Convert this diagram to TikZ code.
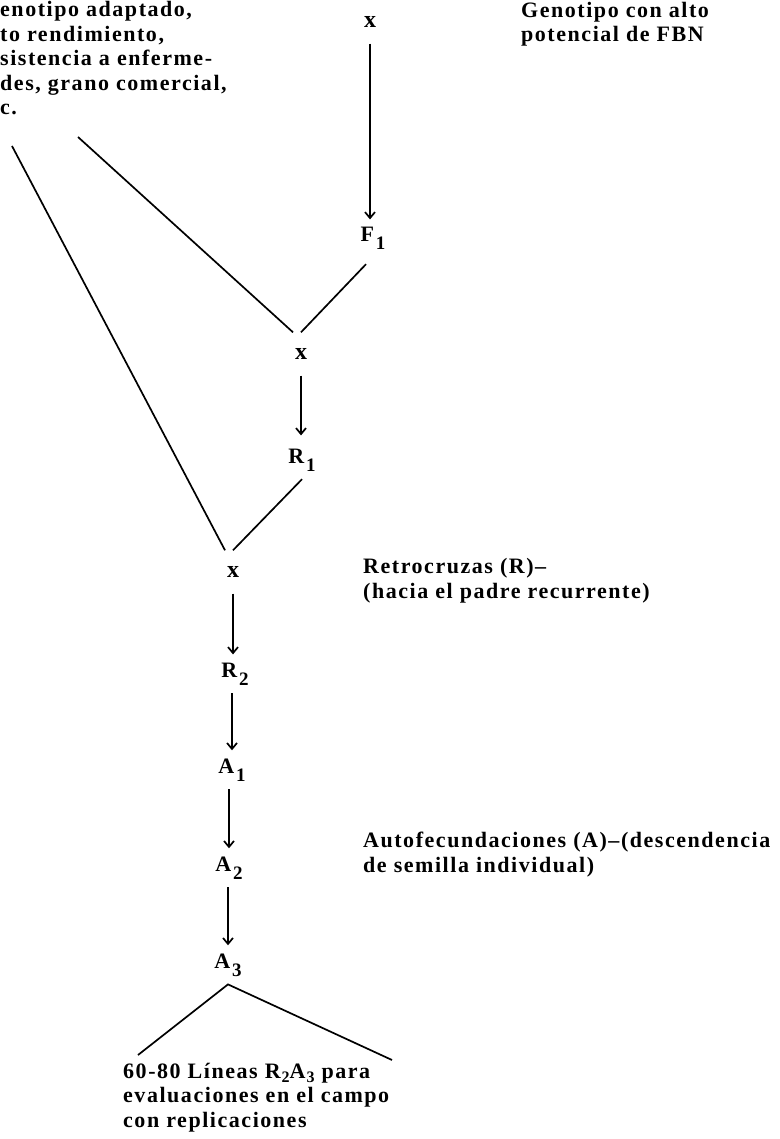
\documentclass[tikz,border=0pt]{standalone}
\usepackage{fontspec}
\setmainfont{Liberation Serif}[LetterSpace=7]
\usetikzlibrary{arrows.meta}
\newcommand\lab[2]{#1\kern2pt\raisebox{-8pt}{\fontsize{19}{19}\selectfont #2}}
\newcommand\inl[2]{#1\kern1pt\raisebox{-4pt}{\fontsize{16}{16}\selectfont #2}}
\tikzset{
 every node/.style={font=\bfseries\fontsize{22}{24.5}\selectfont},
 txt/.style={anchor=base west, align=left, inner sep=0pt},
 cross/.style={inner sep=16pt, font=\bfseries\fontsize{24}{24}\selectfont},
 gen/.style={anchor=base, inner sep=8pt},
 ln/.style={line width=1.7pt},
 arr/.style={line width=1.7pt, -{Straight Barb[length=6pt,width=10pt,line width=1.7pt]}}
}
\begin{document}
\begin{tikzpicture}[x=1pt,y=-1pt]
\useasboundingbox (0,0) rectangle (779,1139);
% multi-line nodes: base anchor = baseline of the last line
\node[txt] (parentA) at (0,115) {enotipo adaptado,\\to rendimiento,\\sistencia a enferme-\\des, grano comercial,\\c.};
\node[txt] (parentB) at (521,42) {Genotipo con alto\\potencial de FBN};
\node[cross] (x1) at (370,22) {x};
\node[gen] (F1) at (373,242) {\lab{F}{1}};
\node[cross] (x2) at (301,354) {x};
\node[gen] (R1) at (302,463) {\lab{R}{1}};
\node[cross] (x3) at (233,572) {x};
\node[gen] (R2) at (235,677) {\lab{R}{2}};
\node[gen] (A1) at (232,773) {\lab{A}{1}};
\node[gen] (A2) at (229,871) {\lab{A}{2}};
\node[gen] (A3) at (228,968) {\lab{A}{3}};
\node[txt] (retro) at (363,598) {Retrocruzas (R)–\\(hacia el padre recurrente)};
\node[txt] (auto) at (363,872) {Autofecundaciones (A)–(descendencia\\de semilla individual)};
\node[txt] (lines) at (123,1127) {60-80 Líneas \inl{R}{2}\inl{A}{3} para\\evaluaciones en el campo\\con replicaciones};
\coordinate (pa) at (12,146);
\coordinate (pb) at (78,137);
\coordinate (bl) at (138,1055);
\coordinate (br) at (392,1060);
\draw[ln] (pa) -- ([xshift=-8pt]x3.north);
\draw[ln] (pb) -- ([xshift=-8pt]x2.north);
\draw[ln] ([xshift=-7pt,yshift=-6pt]F1.south) -- (x2.north);
\draw[ln] (R1.south) -- (x3.north);
\draw[ln] (bl) -- (A3.south) -- (br);
\draw[arr] (x1.south) -- (x1.south |- F1.north);
\draw[arr] (x2.south) -- ([yshift=5pt]x2.south |- R1.north);
\draw[arr] (x3.south) -- (x3.south |- R2.north);
\draw[arr] (A1.north |- R2.south) -- (A1.north);
\draw[arr] (A2.north |- A1.south) -- (A2.north);
\draw[arr] (A3.north |- A2.south) -- (A3.north);
\end{tikzpicture}
\end{document}
